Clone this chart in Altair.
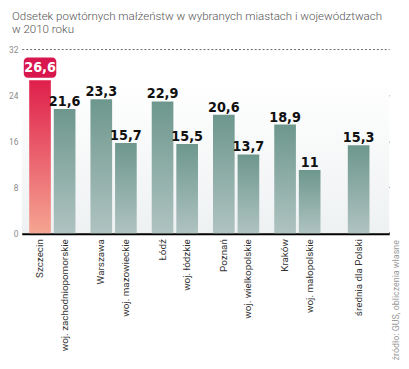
import altair as alt
import pandas as pd

title_lines = ["Odsetek powtórnych małżeństw w wybranych miastach i województwach", "w 2010 roku"]
source_text = ["źródło: GUS, obliczenia własne"]

groups = ["Szczecin", "Warszawa", "Łódź", "Poznań", "Kraków", "Polska"]
labels = ["Szczecin", "woj. zachodniopomorskie", "Warszawa", "woj. mazowieckie",
          "Łódź", "woj. łódzkie", "Poznań", "woj. wielkopolskie",
          "Kraków", "woj. małopolskie", "średnia dla Polski"]
group_of = ["Szczecin", "Szczecin", "Warszawa", "Warszawa", "Łódź", "Łódź",
            "Poznań", "Poznań", "Kraków", "Kraków", "Polska"]
kinds = ["miasto", "województwo", "miasto", "województwo", "miasto", "województwo",
         "miasto", "województwo", "miasto", "województwo", "średnia"]
values = [26.6, 21.6, 23.3, 15.7, 22.9, 15.5, 20.6, 13.7, 18.9, 11.0, 15.3]
value_labels = ["26,6", "21,6", "23,3", "15,7", "22,9", "15,5", "20,6", "13,7", "18,9", "11", "15,3"]
y_ticks = [0, 8, 16, 24, 32]

df = pd.DataFrame({"label": labels, "group": group_of, "kind": kinds,
                   "value": values, "vlabel": value_labels})

W, H = 373, 187
NUM_FONT = "Liberation Sans Narrow, DejaVu Sans Condensed, Roboto, sans-serif"
TXT_FONT = "Roboto, Liberation Sans, sans-serif"

teal = alt.LinearGradient(gradient="linear", x1=0, y1=0, x2=0, y2=1,
                          stops=[alt.GradientStop(offset=0, color="#6d978d"),
                                 alt.GradientStop(offset=1, color="#afc3c1")])
red = alt.LinearGradient(gradient="linear", x1=0, y1=0, x2=0, y2=1,
                         stops=[alt.GradientStop(offset=0, color="#df1f4b"),
                                alt.GradientStop(offset=1, color="#f5a592")])
bg = alt.LinearGradient(gradient="linear", x1=0, y1=0, x2=0, y2=1,
                        stops=[alt.GradientStop(offset=0, color="#ffffff"),
                               alt.GradientStop(offset=1, color="#eef1f2")])

y_scale = alt.Scale(domain=[0, 32], nice=False, zero=True)
y_axis = alt.Axis(values=y_ticks, title=None, domain=False, ticks=False,
                  labelFontSize=8.5, labelColor="#8a8a8a", labelFont=TXT_FONT,
                  labelPadding=4, gridColor="#666666", gridDash=[2, 2], gridWidth=1)
x_enc = alt.X("group:N",
              scale=alt.Scale(domain=groups, paddingInner=0.245, paddingOuter=0.121),
              axis=alt.Axis(labels=False, ticks=False, title=None, grid=False,
                            domainColor="#000000", domainWidth=3))
xoff = alt.XOffset("kind:N",
                   scale=alt.Scale(domain=["miasto", "województwo"], paddingInner=0.12, paddingOuter=0))
y_enc = alt.Y("value:Q", scale=y_scale, axis=y_axis)

base = alt.Chart(df)
pairs = base.transform_filter("datum.kind != 'średnia'")
others = pairs.transform_filter("datum.label != 'Szczecin'")
szc = pairs.transform_filter("datum.label == 'Szczecin'")
avg = base.transform_filter("datum.kind == 'średnia'")

background = base.mark_rect(fill=bg).encode(
    y=alt.Y("max(value):Q", scale=y_scale, axis=y_axis), y2=alt.datum(0),
    x=alt.value(0), x2=alt.value(W))

bars_o = others.mark_bar(color=teal).encode(x=x_enc, xOffset=xoff, y=y_enc)
bars_s = szc.mark_bar(color=red).encode(x=x_enc, xOffset=xoff, y=y_enc)
bars_a = avg.mark_bar(color=teal, width=22).encode(x=x_enc, y=y_enc)

txt_kw = dict(font=NUM_FONT, fontSize=14.5, fontWeight="bold", color="#111111",
              baseline="alphabetic", dy=-3)
vals_o = others.mark_text(**txt_kw).encode(x=x_enc, xOffset=xoff, y=y_enc, text="vlabel:N")
vals_a = avg.mark_text(**txt_kw).encode(x=x_enc, y=y_enc, text="vlabel:N")

badge = szc.mark_bar(width=33, cornerRadius=4, color="#d8174f", yOffset=-2.5, y2Offset=-23).encode(
    x=x_enc, xOffset=xoff, y=y_enc, y2=alt.Y2("value:Q"))
badge_txt = szc.mark_text(font=NUM_FONT, fontSize=14.5, fontWeight="bold", color="#ffffff",
                          baseline="middle", dy=-12.5).encode(
    x=x_enc, xOffset=xoff, y=y_enc, text="vlabel:N")

lab_kw = dict(angle=270, align="right", baseline="middle", font=TXT_FONT,
              fontSize=10, color="#333333")
cat_o = pairs.mark_text(**lab_kw).encode(x=x_enc, xOffset=xoff, y=alt.value(H + 6), text="label:N")
cat_a = avg.mark_text(**lab_kw).encode(x=x_enc, y=alt.value(H + 6), text="label:N")

src = alt.Chart(pd.DataFrame({"t": source_text})).mark_text(
    angle=270, align="right", baseline="middle", font=TXT_FONT, fontSize=9,
    color="#9a9a9a").encode(x=alt.value(W + 7), y=alt.value(H + 7), text="t:N")

title = alt.Chart(pd.DataFrame({"t": ["\n".join(title_lines)]})).mark_text(
    align="left", baseline="alphabetic", font=TXT_FONT, fontSize=11.7, fontWeight=300,
    color="#555555", lineBreak="\n", lineHeight=14).encode(
    x=alt.value(-10), y=alt.value(-30), text="t:N")

chart = alt.layer(background, bars_o, bars_s, bars_a, vals_o, vals_a, badge, badge_txt,
                  cat_o, cat_a, src, title).properties(
    width=W, height=H,
    autosize=alt.AutoSizeParams(type="none"),
    padding={"left": 14, "top": 39, "right": 12, "bottom": 127},
).configure_view(stroke=None)

chart.save("out.html", embed_options={"renderer": "svg", "actions": False})
